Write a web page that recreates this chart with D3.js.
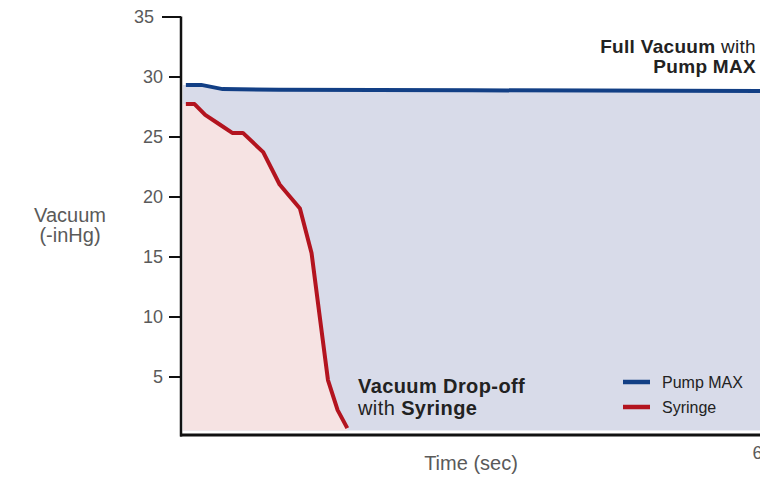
<!DOCTYPE html>
<html>
<head>
<meta charset="utf-8">
<script src="https://cdn.jsdelivr.net/npm/d3@7"></script>
<style>
  body { margin: 0; background: #fff; }
  svg { display: block; font-family: "Liberation Sans", Arial, sans-serif; }
</style>
</head>
<body>
<svg id="chart" width="760" height="479"></svg>
<script>
// time in seconds, vacuum in -inHg
var pumpTime = [0.4, 2, 4.2, 10, 30, 60];
var pumpVac = [29.3, 29.3, 28.95, 28.9, 28.85, 28.8];
var syringeTime = [0.4, 1.3, 2.4, 3.9, 5.2, 6.3, 8.4, 10.1, 12.2, 13.4, 14.2, 15.1, 16.1, 17.1];
var syringeVac = [27.7, 27.7, 26.8, 26.0, 25.3, 25.3, 23.7, 21.0, 19.0, 15.3, 10.3, 4.7, 2.2, 0.7];
var yTicks = [5, 10, 15, 20, 25, 30, 35];
var xTicks = [60];

var drawChart = function () {
    let svg = d3.select("#chart"),
        cs = {
            pallette: {
                pump: "#123f85",
                syringe: "#b3141f",
                pumpFill: "#d8dbe9",
                syringeFill: "#f6e3e3",
                axis: "#111",
                text: "#5a5a5a",
                label: "#222"
            },
            x: { left: 182, right: 762 },
            y: { top: 16.5, bottom: 436.5 }
        };

    let pump = pumpTime.map((t, i) => ({ t: t, v: pumpVac[i] })),
        syringe = syringeTime.map((t, i) => ({ t: t, v: syringeVac[i] }));

    cs.x.scale = d3.scaleLinear().domain([0, 60]).range([cs.x.left, cs.x.right]);
    cs.y.scale = d3.scaleLinear().domain([0, 35]).range([cs.y.bottom, cs.y.top]);

    let base = cs.y.scale(0.5);

    // filled regions
    let area = d3.area()
        .x(d => cs.x.scale(d.t))
        .y0(base)
        .y1(d => cs.y.scale(d.v));
    let pumpFillData = [{ t: 0.1, v: pump[0].v }].concat(pump);
    svg.append("path").datum(pumpFillData)
        .attr("fill", cs.pallette.pumpFill)
        .attr("d", area);

    let synFillData = [{ t: 0.1, v: syringe[0].v }].concat(syringe);
    synFillData.push({ t: syringe[syringe.length - 1].t, v: 0.5 });
    svg.append("path").datum(synFillData)
        .attr("fill", cs.pallette.syringeFill)
        .attr("d", area);

    let line = d3.line()
        .x(d => cs.x.scale(d.t))
        .y(d => cs.y.scale(d.v));

    svg.append("path").datum(pump)
        .attr("fill", "none")
        .attr("stroke", cs.pallette.pump)
        .attr("stroke-width", 4)
        .attr("d", line);

    svg.append("path").datum(syringe)
        .attr("fill", "none")
        .attr("stroke", cs.pallette.syringe)
        .attr("stroke-width", 4)
        .attr("stroke-linejoin", "round")
        .attr("d", line);

    // axes
    let yAxis = d3.axisLeft(cs.y.scale).tickValues(yTicks).tickSize(12).tickPadding(6);
    let yg = svg.append("g").attr("transform", "translate(" + (cs.x.left - 1) + ",0)").call(yAxis);
    yg.select(".domain").attr("stroke", cs.pallette.axis).attr("stroke-width", 2.5)
        .attr("d", "M0," + cs.y.scale(35) + "V" + cs.y.bottom);
    yg.selectAll(".tick line").attr("stroke", cs.pallette.axis).attr("stroke-width", 2);
    yg.selectAll(".tick text").attr("fill", cs.pallette.text)
        .style("font-size", "18px").style("font-family", "Liberation Sans, Arial, sans-serif");
    // the top tick closes the axis like a corner
    yg.selectAll(".tick").filter(d => d === 35).select("line").attr("x2", -19);
    yg.selectAll(".tick").filter(d => d === 35).select("text").attr("x", -27);

    let xAxis = d3.axisBottom(cs.x.scale).tickValues(xTicks).tickSize(0).tickPadding(11);
    let xg = svg.append("g").attr("transform", "translate(0," + (cs.y.bottom - 1.5) + ")").call(xAxis);
    xg.select(".domain").attr("stroke", cs.pallette.axis).attr("stroke-width", 3)
        .attr("d", "M" + (cs.x.left - 2) + ",0H760");
    xg.selectAll(".tick text").attr("fill", cs.pallette.text)
        .style("font-size", "18px").style("font-family", "Liberation Sans, Arial, sans-serif");

    // axis titles
    let yTitle = svg.append("text").attr("text-anchor", "middle")
        .attr("fill", cs.pallette.text).style("font-size", "20px");
    yTitle.append("tspan").attr("x", 70).attr("y", 222).text("Vacuum");
    yTitle.append("tspan").attr("x", 70).attr("y", 242).text("(-inHg)");

    svg.append("text").attr("x", 471).attr("y", 470).attr("text-anchor", "middle")
        .attr("fill", cs.pallette.text).style("font-size", "20px").text("Time (sec)");

    // annotations
    let top = svg.append("text").attr("text-anchor", "end").attr("fill", cs.pallette.label)
        .style("font-size", "19px").style("letter-spacing", "0.3px");
    let t1 = top.append("tspan").attr("x", 756).attr("y", 53);
    t1.append("tspan").attr("font-weight", "bold").text("Full Vacuum");
    t1.append("tspan").text(" with");
    top.append("tspan").attr("x", 756).attr("y", 73).attr("font-weight", "bold").text("Pump MAX");

    let drop = svg.append("text").attr("fill", cs.pallette.label)
        .style("font-size", "20px").style("letter-spacing", "0.4px");
    drop.append("tspan").attr("x", 358).attr("y", 393).attr("font-weight", "bold").text("Vacuum Drop-off");
    let d2 = drop.append("tspan").attr("x", 358).attr("y", 415);
    d2.append("tspan").text("with ");
    d2.append("tspan").attr("font-weight", "bold").text("Syringe");

    // legend
    let legend = [
        { name: "Pump MAX", color: cs.pallette.pump, y: 382 },
        { name: "Syringe", color: cs.pallette.syringe, y: 407 }
    ];
    let lg = svg.selectAll(".legend").data(legend).enter().append("g").attr("class", "legend");
    lg.append("line").attr("x1", 623).attr("x2", 650)
        .attr("y1", d => d.y).attr("y2", d => d.y)
        .attr("stroke", d => d.color).attr("stroke-width", 4.5);
    lg.append("text").attr("x", 662).attr("y", d => d.y + 6)
        .attr("fill", cs.pallette.label).style("font-size", "16px").text(d => d.name);
};

drawChart();
</script>
</body>
</html>
